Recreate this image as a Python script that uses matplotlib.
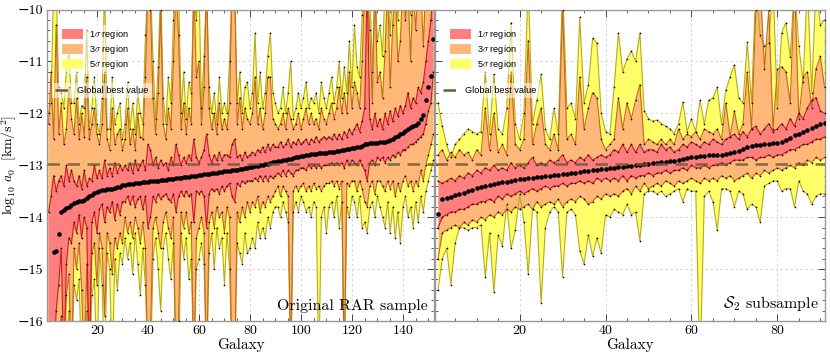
import matplotlib
matplotlib.use("Agg")
import matplotlib.pyplot as plt
from matplotlib.patches import Patch
from matplotlib.lines import Line2D
from matplotlib.ticker import MultipleLocator, FuncFormatter
import numpy as np

plt.rcParams['font.family'] = ['cmr10', 'DejaVu Serif']
plt.rcParams['mathtext.fontset'] = 'cm'

###############################################################################
# Original RAR sample (152 galaxies, sorted by best-fit log10 a0)

cen_rar = [
    -16.8, -16.3, -14.67, -14.66, -14.33, -13.91, -13.87, -13.83, -13.80, -13.76,
    -13.72, -13.71, -13.69, -13.68, -13.66, -13.63, -13.60, -13.57, -13.53, -13.52,
    -13.50, -13.48, -13.47, -13.46, -13.46, -13.45, -13.44, -13.42, -13.41, -13.39,
    -13.38, -13.37, -13.36, -13.36, -13.35, -13.34, -13.34, -13.33, -13.32, -13.32,
    -13.31, -13.31, -13.30, -13.30, -13.29, -13.28, -13.28, -13.27, -13.26, -13.26,
    -13.25, -13.24, -13.24, -13.23, -13.22, -13.22, -13.21, -13.20, -13.20, -13.19,
    -13.18, -13.17, -13.17, -13.16, -13.15, -13.15, -13.14, -13.13, -13.13, -13.12,
    -13.11, -13.11, -13.10, -13.09, -13.09, -13.08, -13.07, -13.06, -13.05, -13.04,
    -13.03, -13.02, -13.01, -13.00, -12.99, -12.98, -12.97, -12.96, -12.94, -12.93,
    -12.92, -12.91, -12.90, -12.89, -12.88, -12.87, -12.86, -12.85, -12.84, -12.83,
    -12.82, -12.81, -12.80, -12.79, -12.78, -12.78, -12.77, -12.77, -12.76, -12.76,
    -12.75, -12.75, -12.74, -12.73, -12.72, -12.71, -12.70, -12.69, -12.68, -12.67,
    -12.66, -12.65, -12.64, -12.62, -12.60, -12.59, -12.58, -12.58, -12.57, -12.57,
    -12.56, -12.56, -12.55, -12.53, -12.51, -12.49, -12.46, -12.43, -12.40, -12.37,
    -12.34, -12.30, -12.27, -12.24, -12.22, -12.18, -12.10, -12.03, -11.75, -11.50,
    -11.28, -10.57]

up1_rar = [
    -13.9, -13.6, -13.2, -13.5, -13.3, -13.2, -13.4, -13.0, -13.3, -13.1,
    -13.3, -13.4, -13.2, -13.45, -13.1, -13.4, -13.25, -13.3, -13.0, -13.25,
    -13.1, -13.25, -12.9, -13.2, -13.05, -13.2, -12.95, -13.15, -13.0, -13.1,
    -13.0, -13.1, -12.95, -13.15, -12.9, -13.1, -13.0, -12.9, -13.1, -12.6,
    -12.7, -13.0, -12.85, -13.05, -12.9, -13.0, -12.95, -13.1, -12.85, -13.0,
    -12.6, -12.8, -13.0, -12.85, -12.95, -12.8, -12.9, -12.5, -12.85, -12.95,
    -12.85, -12.7, -12.4, -12.8, -12.95, -12.8, -12.9, -12.75, -12.9, -12.8,
    -12.8, -12.85, -12.6, -12.5, -12.85, -12.8, -12.9, -12.75, -12.85, -12.8,
    -12.75, -12.8, -12.7, -12.75, -12.65, -12.75, -12.6, -12.7, -12.6, -12.65,
    -12.65, -12.55, -12.65, -12.6, -12.5, -12.65, -12.55, -12.6, -12.5, -12.6,
    -12.55, -12.5, -12.6, -12.5, -12.55, -12.45, -12.55, -12.5, -12.45, -12.5,
    -12.45, -12.5, -12.4, -12.5, -12.4, -12.5, -12.35, -12.45, -12.3, -12.4,
    -12.3, -12.2, -12.35, -12.15, -11.9, -9.5, -12.1, -12.3, -12.0, -12.25,
    -12.1, -12.3, -12.0, -12.2, -11.95, -12.15, -11.9, -12.05, -11.85, -12.0,
    -11.85, -11.6, -11.9, -11.7, -11.8, -11.5, -11.6, -11.4, -11.0, -10.6,
    -10.2, -9.5]

lo1_rar = [
    -17.0, -17.0, -17.0, -15.8, -15.3, -14.6, -17.0, -14.9, -14.4, -14.5,
    -14.1, -14.3, -13.95, -14.4, -14.0, -14.2, -17.0, -14.1, -13.9, -14.3,
    -13.85, -13.75, -14.1, -13.8, -13.9, -13.7, -14.05, -13.75, -13.95, -13.7,
    -13.7, -13.6, -13.75, -13.6, -13.8, -13.65, -13.6, -13.85, -13.6, -14.2,
    -14.0, -13.6, -13.7, -13.55, -13.65, -13.6, -13.55, -13.65, -13.7, -13.55,
    -13.9, -13.6, -13.5, -13.6, -13.5, -13.6, -13.55, -14.1, -13.5, -13.55,
    -13.5, -13.6, -14.2, -13.55, -13.45, -13.5, -13.45, -13.55, -13.4, -13.5,
    -13.4, -13.35, -13.6, -13.7, -13.35, -13.4, -13.3, -13.35, -13.3, -13.3,
    -13.3, -13.25, -13.3, -13.2, -13.3, -13.2, -13.3, -13.2, -13.25, -13.2,
    -13.15, -13.2, -13.1, -13.2, -13.1, -13.15, -13.2, -13.1, -13.1, -13.05,
    -13.05, -13.1, -13.0, -13.05, -13.0, -13.05, -13.0, -13.05, -13.0, -13.0,
    -13.0, -12.95, -13.0, -12.95, -13.0, -12.95, -13.05, -12.9, -13.0, -12.9,
    -12.95, -13.0, -12.9, -13.0, -13.1, -13.3, -12.95, -12.9, -13.0, -12.85,
    -12.9, -12.85, -12.95, -12.85, -12.9, -12.8, -12.85, -12.75, -12.8, -12.7,
    -12.7, -12.65, -12.6, -12.6, -12.55, -12.5, -12.45, -12.4, -12.2, -11.95,
    -11.8, -11.2]

up3_rar = [
    -12.2, -11.2, -12.5, -10.3, -12.4, -11.8, -12.6, -12.3, -11.5, -12.1,
    -12.4, -11.7, -12.5, -12.0, -12.45, -11.3, -12.5, -12.2, -11.9, -12.4,
    -12.6, -12.2, -11.2, -12.5, -12.7, -11.9, -12.6, -12.4, -12.3, -12.7,
    -12.5, -11.9, -12.6, -12.3, -12.7, -12.0, -12.45, -12.5, -11.3, -9.5,
    -10.0, -11.7, -12.4, -11.6, -10.0, -12.2, -12.5, -11.9, -12.3, -11.0,
    -9.5, -10.5, -12.3, -11.8, -12.4, -11.9, -12.2, -9.5, -11.3, -11.0,
    -12.2, -11.5, -9.5, -11.9, -12.3, -12.0, -12.4, -11.8, -12.3, -12.1,
    -12.3, -11.8, -9.5, -9.5, -12.2, -11.7, -12.3, -11.9, -12.1, -12.2,
    -12.0, -11.3, -12.2, -11.9, -12.3, -12.0, -11.3, -11.3, -12.1, -12.2,
    -12.3, -12.2, -12.0, -12.3, -11.9, -12.1, -12.3, -12.2, -12.0, -12.3,
    -12.1, -11.9, -12.2, -12.0, -12.2, -12.1, -12.3, -11.9, -12.1, -12.2,
    -12.0, -11.8, -12.1, -11.9, -11.5, -12.0, -11.6, -12.0, -11.2, -11.9,
    -11.4, -11.6, -11.9, -11.0, -9.5, -9.5, -10.4, -11.8, -9.5, -11.4,
    -11.2, -11.7, -10.8, -9.5, -11.5, -10.3, -9.5, -11.0, -10.6, -9.5,
    -10.2, -9.5, -11.0, -9.5, -10.4, -9.5, -9.5, -10.7, -9.5, -9.5,
    -9.5, -9.5]

lo3_rar = [
    -17.0, -17.0, -17.0, -17.0, -16.3, -15.9, -17.0, -15.5, -15.1, -17.0,
    -14.6, -15.0, -14.5, -15.4, -17.0, -14.9, -17.0, -14.7, -14.5, -15.3,
    -14.3, -14.6, -15.9, -14.3, -14.5, -15.1, -14.4, -14.6, -14.3, -14.5,
    -14.0, -14.3, -14.1, -14.4, -14.0, -14.2, -14.5, -14.1, -14.6, -17.0,
    -16.2, -14.2, -14.0, -14.3, -14.6, -14.1, -13.9, -14.2, -14.4, -14.0,
    -17.0, -16.0, -13.9, -14.2, -13.9, -14.3, -14.1, -17.0, -14.4, -14.2,
    -14.0, -14.3, -17.0, -14.1, -13.9, -14.2, -13.8, -14.0, -13.9, -14.3,
    -13.8, -14.0, -17.0, -17.0, -13.9, -14.1, -13.8, -14.0, -13.7, -13.9,
    -13.7, -13.8, -13.6, -13.9, -13.7, -13.8, -13.6, -13.7, -13.6, -13.5,
    -13.4, -13.6, -13.4, -13.5, -13.6, -17.0, -13.5, -13.4, -13.5, -13.4,
    -13.35, -13.5, -13.4, -13.5, -13.35, -13.45, -13.4, -13.5, -13.4, -13.35,
    -13.35, -13.3, -13.4, -13.3, -13.45, -13.3, -17.0, -13.35, -13.4, -13.3,
    -13.3, -13.5, -13.3, -13.45, -13.7, -13.8, -13.4, -13.3, -13.55, -13.3,
    -13.3, -13.4, -13.5, -13.3, -13.45, -13.3, -13.6, -13.35, -13.5, -13.3,
    -13.2, -13.4, -13.3, -13.5, -13.3, -13.4, -13.1, -13.3, -13.0, -12.8,
    -12.6, -12.4]

up5_rar = [
    -12.0, -11.8, -9.5, -9.5, -11.5, -11.6, -11.9, -11.2, -10.8, -11.8,
    -11.8, -11.2, -12.2, -11.85, -11.9, -10.4, -12.3, -11.9, -11.3, -12.2,
    -12.4, -11.7, -9.5, -12.3, -12.3, -11.3, -12.2, -12.0, -11.8, -12.5,
    -12.2, -11.4, -12.3, -11.8, -12.4, -11.6, -12.0, -12.2, -10.5, -9.5,
    -9.5, -11.0, -12.1, -11.1, -9.5, -11.7, -12.2, -11.3, -11.8, -10.2,
    -9.5, -9.5, -12.0, -11.2, -12.1, -11.4, -11.6, -9.5, -10.2, -9.5,
    -11.9, -10.9, -9.5, -11.5, -12.0, -11.6, -12.2, -11.3, -12.0, -11.8,
    -12.0, -11.0, -9.5, -9.5, -11.8, -11.2, -12.0, -11.5, -11.4, -11.9,
    -11.6, -10.45, -11.8, -11.2, -11.9, -11.6, -10.9, -10.45, -11.6, -11.8,
    -12.0, -11.9, -11.5, -12.0, -11.6, -11.0, -12.1, -11.9, -11.6, -11.9,
    -11.7, -11.4, -11.9, -11.7, -11.8, -11.6, -12.0, -11.4, -11.7, -11.9,
    -11.6, -11.3, -11.8, -11.5, -11.0, -11.7, -11.1, -11.6, -10.6, -11.5,
    -10.3, -11.1, -11.3, -10.1, -9.5, -9.5, -9.5, -11.2, -9.5, -10.6,
    -10.3, -10.9, -9.5, -9.5, -10.5, -9.5, -9.5, -10.2, -9.5, -9.5,
    -9.5, -9.5, -10.1, -9.5, -9.5, -9.5, -9.5, -9.5, -9.5, -9.5,
    -9.5, -9.5]

lo5_rar = [
    -17.0, -17.0, -17.0, -17.0, -17.0, -17.0, -17.0, -16.5, -15.8, -17.0,
    -15.3, -15.6, -15.2, -17.0, -17.0, -15.8, -17.0, -15.5, -15.2, -17.0,
    -14.6, -15.3, -17.0, -14.7, -15.0, -17.0, -14.8, -15.4, -14.7, -14.9,
    -14.4, -14.8, -14.5, -15.1, -14.3, -14.9, -15.5, -14.6, -15.3, -17.0,
    -17.0, -14.8, -14.4, -15.0, -15.8, -14.6, -14.3, -14.8, -15.2, -14.5,
    -17.0, -17.0, -14.3, -14.8, -14.4, -15.2, -14.8, -17.0, -15.0, -14.8,
    -14.5, -14.9, -17.0, -14.7, -14.3, -15.0, -14.2, -14.6, -14.4, -15.3,
    -14.3, -15.0, -17.0, -17.0, -14.5, -14.7, -14.9, -14.3, -14.7, -14.6,
    -14.4, -14.6, -14.1, -14.4, -14.2, -14.4, -14.0, -14.2, -13.9, -13.8,
    -13.8, -14.0, -13.7, -13.9, -14.1, -17.0, -13.9, -13.7, -13.9, -13.6,
    -13.7, -13.9, -13.8, -14.0, -13.7, -13.8, -17.0, -14.0, -13.8, -14.3,
    -13.8, -13.7, -14.0, -13.6, -14.2, -13.7, -17.0, -13.8, -14.0, -13.6,
    -13.7, -14.0, -13.6, -14.2, -14.1, -14.3, -13.8, -13.7, -14.0, -13.6,
    -13.8, -14.0, -14.2, -13.7, -14.3, -13.8, -14.4, -13.9, -14.5, -13.8,
    -13.6, -14.0, -13.8, -14.2, -13.7, -14.1, -13.6, -13.9, -13.5, -13.3,
    -13.1, -12.9]

###############################################################################
# S2 subsample (91 galaxies)

cen_s2 = [
    -13.93, -13.65, -13.63, -13.61, -13.58, -13.56, -13.53, -13.50, -13.47, -13.44,
    -13.42, -13.40, -13.38, -13.37, -13.35, -13.33, -13.32, -13.30, -13.29, -13.27,
    -13.26, -13.25, -13.24, -13.23, -13.22, -13.21, -13.20, -13.19, -13.18, -13.17,
    -13.16, -13.15, -13.14, -13.13, -13.12, -13.11, -13.10, -13.09, -13.08, -13.07,
    -13.06, -13.05, -13.04, -13.03, -13.02, -13.01, -13.00, -12.99, -12.98, -12.97,
    -12.96, -12.95, -12.94, -12.93, -12.92, -12.91, -12.90, -12.88, -12.86, -12.85,
    -12.84, -12.83, -12.82, -12.81, -12.81, -12.80, -12.80, -12.79, -12.76, -12.74,
    -12.72, -12.68, -12.64, -12.62, -12.61, -12.61, -12.60, -12.59, -12.58, -12.57,
    -12.55, -12.52, -12.47, -12.42, -12.39, -12.35, -12.32, -12.28, -12.25, -12.21,
    -12.18]

up1_s2 = [
    -13.3, -13.35, -13.3, -13.25, -13.3, -13.2, -13.25, -13.15, -13.2, -13.1,
    -13.15, -13.05, -13.1, -13.0, -13.1, -13.05, -13.1, -12.95, -13.05, -13.0,
    -13.05, -12.95, -12.85, -13.0, -12.95, -13.0, -12.9, -12.95, -12.9, -12.8,
    -12.95, -12.9, -12.95, -12.85, -12.9, -12.8, -12.9, -12.85, -12.8, -12.85,
    -12.8, -12.7, -12.75, -12.6, -12.75, -12.6, -12.75, -12.6, -12.75, -12.7,
    -12.7, -12.75, -12.6, -12.7, -12.65, -12.75, -12.7, -12.6, -12.65, -12.55,
    -12.6, -12.65, -12.55, -12.6, -12.5, -12.55, -12.6, -12.5, -12.45, -12.4,
    -12.5, -12.35, -12.45, -12.3, -12.25, -12.4, -12.3, -12.2, -12.35, -12.3,
    -12.2, -12.3, -12.1, -12.25, -12.0, -12.1, -11.9, -11.75, -11.7, -11.95,
    -12.0]

lo1_s2 = [
    -14.2, -14.0, -13.95, -13.9, -13.9, -13.85, -13.85, -13.8, -13.75, -13.75,
    -13.7, -13.7, -13.65, -13.7, -13.6, -13.65, -13.55, -13.6, -13.55, -13.5,
    -13.55, -13.5, -13.45, -13.5, -13.45, -13.4, -13.45, -13.4, -13.4, -13.35,
    -13.4, -13.35, -13.35, -13.3, -13.35, -13.3, -13.35, -13.25, -13.3, -13.25,
    -13.3, -13.25, -13.3, -13.2, -13.3, -13.2, -13.25, -13.2, -13.2, -13.15,
    -13.2, -13.15, -13.15, -13.1, -13.15, -13.1, -13.1, -13.05, -13.1, -13.0,
    -13.05, -13.05, -13.0, -13.05, -13.0, -13.0, -12.95, -13.0, -12.95, -12.9,
    -12.9, -12.9, -12.85, -12.85, -12.9, -12.85, -12.85, -12.8, -12.85, -12.8,
    -12.8, -12.75, -12.7, -12.7, -12.65, -12.6, -12.6, -12.55, -12.5, -12.5,
    -12.45]

up3_s2 = [
    -12.8, -12.7, -12.9, -12.75, -12.85, -12.7, -12.8, -12.75, -12.9, -12.7,
    -12.8, -11.9, -12.7, -12.0, -12.75, -12.6, -12.8, -11.2, -12.6, -12.7,
    -12.5, -10.6, -12.6, -12.2, -11.9, -12.6, -12.7, -12.4, -12.7, -10.0,
    -12.5, -12.4, -12.6, -11.3, -12.3, -11.9, -11.6, -11.7, -12.5, -12.7,
    -12.6, -12.5, -11.7, -12.3, -11.8, -12.1, -11.75, -11.45, -12.6, -12.5,
    -12.55, -12.6, -12.5, -12.6, -12.5, -12.6, -12.3, -12.5, -12.4, -12.45,
    -12.35, -12.5, -12.3, -12.35, -12.4, -12.3, -12.5, -11.8, -12.45, -11.95,
    -12.4, -12.2, -11.2, -12.3, -10.0, -9.5, -11.15, -10.0, -12.3, -11.15,
    -11.1, -11.2, -11.8, -9.5, -12.1, -11.3, -11.2, -11.9, -11.15, -10.9,
    -11.5]

lo3_s2 = [
    -14.8, -14.3, -14.25, -14.2, -14.15, -14.2, -14.1, -14.15, -14.05, -14.1,
    -14.0, -14.05, -13.95, -14.0, -13.9, -13.95, -13.85, -13.9, -13.8, -13.85,
    -13.8, -13.75, -13.85, -13.7, -13.8, -13.75, -13.7, -13.75, -13.65, -13.8,
    -13.7, -13.65, -13.7, -13.6, -13.65, -13.75, -13.7, -13.6, -13.65, -13.55,
    -13.6, -13.55, -13.6, -13.5, -13.45, -13.55, -13.4, -13.5, -13.35, -13.45,
    -13.4, -13.35, -13.4, -13.3, -13.35, -13.4, -13.3, -13.35, -13.3, -13.25,
    -13.3, -13.35, -13.25, -13.3, -13.25, -13.3, -13.2, -13.25, -13.2, -13.3,
    -13.25, -13.2, -13.15, -13.25, -13.15, -13.2, -13.1, -13.15, -13.1, -13.05,
    -13.1, -13.05, -13.0, -13.05, -12.95, -13.0, -12.9, -12.95, -12.85, -12.9,
    -12.85]

up5_s2 = [
    -11.8, -12.25, -12.6, -12.85, -12.6, -12.5, -12.4, -12.3, -12.35, -12.4,
    -12.35, -11.2, -12.4, -11.25, -12.3, -12.4, -11.9, -10.25, -12.2, -12.5,
    -12.0, -9.5, -12.2, -11.75, -11.25, -12.3, -12.5, -11.9, -12.4, -9.5,
    -11.9, -11.8, -12.1, -10.15, -11.8, -11.45, -10.55, -10.65, -12.0, -12.35,
    -12.4, -11.5, -10.45, -11.2, -10.95, -10.8, -11.0, -10.45, -11.95, -12.1,
    -12.15, -12.13, -12.2, -12.25, -12.3, -12.39, -12.2, -11.78, -12.35, -12.1,
    -12.35, -11.75, -12.2, -11.75, -11.7, -11.5, -12.2, -11.55, -11.3, -11.06,
    -11.7, -11.8, -10.63, -11.8, -9.5, -10.5, -10.7, -10.65, -9.5, -11.9,
    -10.45, -10.25, -10.91, -9.5, -10.7, -11.4, -9.5, -11.6, -9.5, -10.3,
    -10.2]

lo5_s2 = [
    -15.4, -14.8, -14.6, -15.3, -14.5, -14.2, -14.2, -14.25, -14.2, -14.2,
    -14.15, -15.15, -14.3, -15.45, -14.35, -14.55, -13.75, -14.6, -14.25, -13.55,
    -14.1, -15.1, -13.85, -13.9, -15.65, -14.2, -13.9, -13.8, -13.9, -15.15,
    -13.9, -13.85, -13.95, -14.65, -14.9, -14.35, -14.75, -14.4, -14.7, -13.95,
    -14.0, -13.85, -13.9, -13.95, -13.75, -13.95, -13.9, -14.45, -13.55, -13.5,
    -13.5, -13.55, -13.5, -13.6, -13.55, -13.5, -13.45, -13.7, -13.45, -13.5,
    -13.5, -17.0, -13.6, -13.5, -13.7, -14.25, -13.45, -13.45, -13.5, -13.8,
    -13.5, -13.55, -13.85, -13.75, -13.8, -14.1, -13.4, -13.35, -13.3, -13.3,
    -13.5, -13.45, -13.45, -13.8, -13.3, -13.5, -13.55, -13.75, -13.6, -13.55,
    -13.55]

best_value = -12.97

###############################################################################

c_red, e_red = '#ff7f7f', '#c81e1e'
c_orange, e_orange = '#ffb877', '#c46a1c'
c_yellow, e_yellow = '#ffff6a', '#b8ab1a'
c_best = '#6e5a36'
leg_font = {'family': 'Liberation Sans', 'size': 6.6}
# plain text tick labels with a real minus sign
int_fmt = FuncFormatter(lambda v, p: ('\u2212%d' % -round(v)) if v < 0
                        else '%d' % round(v))


def draw_panel(ax, cen, bands, label):
    x = np.arange(1, len(cen) + 1)
    for lo, hi, fc, ec in bands:
        ax.fill_between(x, lo, hi, color=fc, lw=0, zorder=1)
        for b in (lo, hi):
            ax.plot(x, b, color=ec, lw=0.8, zorder=2)
            ax.plot(x, b, 'o', color='k', ms=1.2, mew=0, zorder=3)
    ax.plot(x, cen, 'o', color='k', ms=3.3, mew=0, zorder=4)
    ax.axhline(best_value, color=c_best, lw=1.8, ls=(0, (5, 3)), alpha=0.85,
               zorder=5)
    ax.text(0.985, 0.025, label, transform=ax.transAxes, ha='right',
            va='bottom', fontsize=11.5, zorder=6)

    ax.set_ylim(-16, -10)
    ax.yaxis.set_major_locator(MultipleLocator(1))
    ax.yaxis.set_minor_locator(MultipleLocator(0.2))
    ax.xaxis.set_major_locator(MultipleLocator(20))
    ax.xaxis.set_minor_locator(MultipleLocator(5))
    ax.xaxis.set_major_formatter(int_fmt)
    ax.yaxis.set_major_formatter(int_fmt)
    ax.tick_params(which='both', direction='in', top=True, right=True,
                   color='#444444', labelsize=10)
    ax.tick_params(which='major', length=5, width=0.7, pad=2.5)
    ax.tick_params(which='minor', length=2.5, width=0.6)
    for s in ax.spines.values():
        s.set_color('#9a9a9a')
        s.set_linewidth(1.0)
    ax.grid(True, which='major', ls=(0, (3, 3)), color='#d0d0d0', lw=0.6,
            zorder=0)
    ax.set_axisbelow(True)
    ax.set_xlabel('Galaxy', fontsize=11, labelpad=1)

    sig = [Patch(fc=c_red, ec='none', label=r'1$\sigma$ region'),
           Patch(fc=c_orange, ec='none', label=r'3$\sigma$ region'),
           Patch(fc=c_yellow, ec='none', label=r'5$\sigma$ region')]
    leg = ax.legend(handles=sig, loc='upper left', bbox_to_anchor=(0.018, 0.965),
                    prop=leg_font, frameon=True, framealpha=0.55,
                    edgecolor='none', handlelength=2.3, handleheight=1.35,
                    labelspacing=0.2, borderpad=0.35, handletextpad=0.65,
                    fancybox=False)
    leg.set_zorder(7)
    ax.add_artist(leg)
    line = [Line2D([], [], color=c_best, lw=1.8, ls=(0, (5, 3)),
                   label='Global best value')]
    leg2 = ax.legend(handles=line, loc='upper left',
                     bbox_to_anchor=(0.0, 0.78), prop=leg_font,
                     frameon=True, framealpha=0.55, edgecolor='none',
                     handlelength=2.1, borderpad=0.35, handletextpad=0.35,
                     fancybox=False)
    leg2.set_zorder(7)


fig = plt.figure(figsize=(8.3, 3.58), dpi=100)
ax1 = fig.add_axes([0.0566, 0.1034, 0.4663, 0.8700])
ax2 = fig.add_axes([0.5241, 0.1034, 0.4699, 0.8700])

draw_panel(ax1, cen_rar,
           [(lo5_rar, up5_rar, c_yellow, e_yellow),
            (lo3_rar, up3_rar, c_orange, e_orange),
            (lo1_rar, up1_rar, c_red, e_red)],
           'Original RAR sample')
draw_panel(ax2, cen_s2,
           [(lo5_s2, up5_s2, c_yellow, e_yellow),
            (lo3_s2, up3_s2, c_orange, e_orange),
            (lo1_s2, up1_s2, c_red, e_red)],
           r'$\mathcal{S}_2$ subsample')

ax1.set_xlim(0.4, 152.2)
ax2.set_xlim(0.3, 91.1)
ax1.set_ylabel(r'$\log_{10}\, a_0\ \ [\mathrm{km/s^2}]$', fontsize=10)
ax1.yaxis.set_label_coords(-0.071, 0.5)
ax2.tick_params(labelleft=False)

fig.savefig('out.png', dpi=100)
